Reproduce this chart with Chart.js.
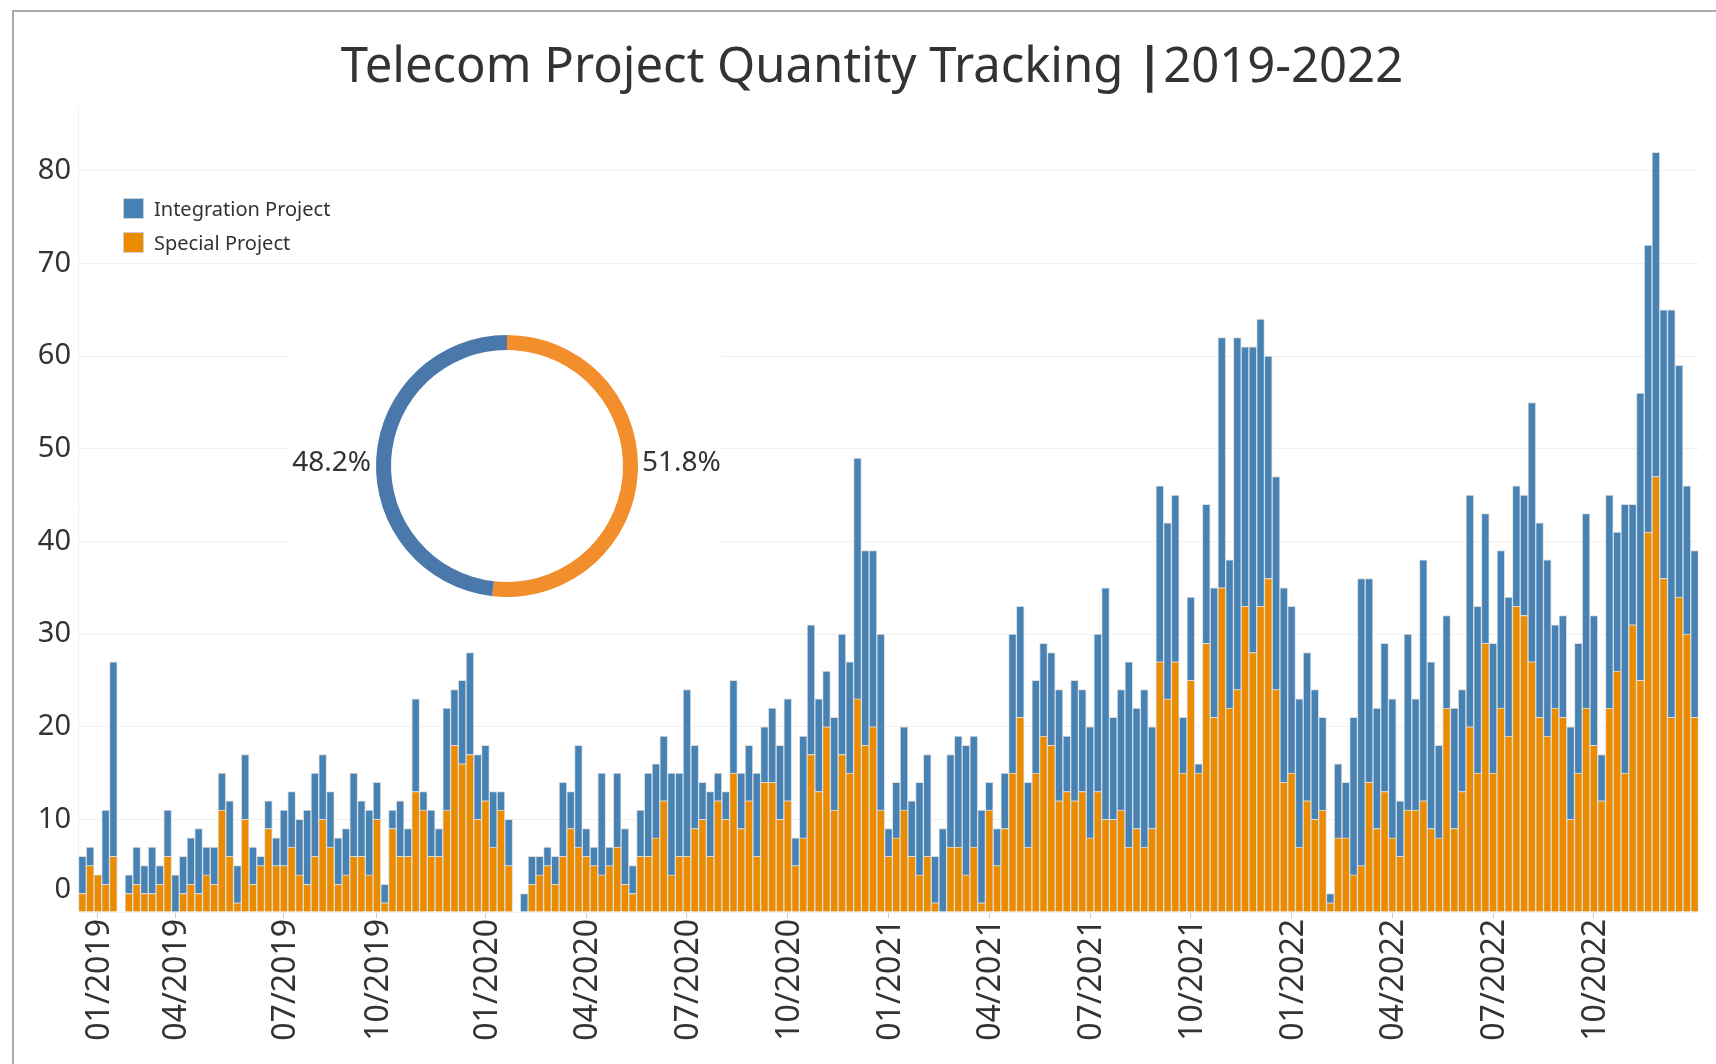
<!DOCTYPE html>
<html>
<head>
<meta charset="utf-8">
<script src="https://cdn.jsdelivr.net/npm/chart.js@4.4.0/dist/chart.umd.min.js"></script>
<style>
  html, body { margin: 0; padding: 0; background: #fff; overflow: hidden; }
  #wrap { position: relative; width: 1716px; height: 1064px; }
  #frame { position: absolute; left: 12px; top: 10px; width: 1800px; height: 1200px;
           border-left: 2px solid #aaa; border-top: 2px solid #aaa; }
  #main { position: absolute; left: 0; top: 0; }
  #pieBox { position: absolute; left: 290px; top: 317px; width: 432px; height: 300px; background: #fff; }
</style>
</head>
<body>
<div id="wrap">
  <div id="frame"></div>
  <canvas id="main" width="1716" height="1064"></canvas>
  <div id="pieBox"><canvas id="pie" width="432" height="300"></canvas></div>
</div>
<script>
// weekly counts, one entry per ISO week (null = no data that week)
const special2019 = [2,5,4,3,6,null,2,3,2,2,3,6,0,2,3,2,4,3,11,6,1,10,3,5,9,5,5,7,4,3,6,10,7,3,4,6,6,4,10,1,9,6,6,13,11,6,6,11,18,16,17,10];
const integration2019 = [4,2,0,8,21,null,2,4,3,5,2,5,4,4,5,7,3,4,4,6,4,7,4,1,3,3,6,6,6,8,9,7,6,5,5,9,6,7,4,2,2,6,3,10,2,5,3,11,6,9,11,7];
const special2020 = [12,7,11,5,null,0,3,4,5,3,6,9,7,6,5,4,5,7,3,2,6,6,8,12,4,6,6,9,10,6,12,10,15,9,12,6,14,14,10,12,5,8,17,13,20,11,17,15,23,18,20,11,6];
const integration2020 = [6,6,2,5,null,2,3,2,2,3,8,4,11,3,2,11,2,8,6,3,5,9,8,7,11,9,18,9,4,7,3,3,10,6,6,9,6,8,8,11,3,11,14,10,6,10,13,12,26,21,19,19,3];
const special2021 = [8,11,6,4,6,1,0,7,7,4,7,1,11,5,9,15,21,7,15,19,18,12,13,12,13,8,13,10,10,11,7,9,7,9,27,23,27,15,25,15,29,21,35,22,24,33,28,33,36,24,14,15];
const integration2021 = [6,9,6,10,11,5,9,10,12,14,12,10,3,4,6,15,12,7,10,10,10,12,6,13,11,12,17,25,11,13,20,13,17,11,19,19,18,6,9,1,15,14,27,16,38,28,33,31,24,23,21,18];
const special2022 = [7,12,10,11,1,8,8,4,5,14,9,13,8,6,11,11,12,9,8,22,9,13,20,15,29,15,22,19,33,32,27,21,19,22,21,10,15,22,18,12,22,26,15,31,25,41,47,36,21,34,30,21];
const integration2022 = [16,16,14,10,1,8,6,17,31,22,13,16,15,6,19,12,26,18,10,10,13,11,25,18,14,14,17,15,13,13,28,21,19,9,11,10,14,21,14,5,23,15,29,13,31,31,35,29,44,25,16,18];

const years = [2019, 2020, 2021, 2022];
const weeksPerYear = [52, 53, 52, 52];

// quarter tick labels and the week slot they sit on
const tickIdx = [2, 12, 26, 38, 52, 65, 78, 91, 104, 117, 130, 143, 156, 169, 182, 195];
const tickText = ['01/2019','04/2019','07/2019','10/2019','01/2020','04/2020','07/2020','10/2020',
                  '01/2021','04/2021','07/2021','10/2021','01/2022','04/2022','07/2022','10/2022'];

const yTicks = [0, 10, 20, 30, 40, 50, 60, 70, 80];

// overall share shown in the ring
const shareLabels = ['Special Project', 'Integration Project'];
const shareValues = [51.8, 48.2];

const weeks = [];
years.forEach((y, k) => {
  for (let w = 1; w <= weeksPerYear[k]; w++) weeks.push(y + '-W' + String(w).padStart(2, '0'));
});
const special = [].concat(special2019, special2020, special2021, special2022);
const integration = [].concat(integration2019, integration2020, integration2021, integration2022);

const FONT = "'Noto Sans', 'Open Sans', sans-serif";
const TEXT = '#333333';
const BLUE = '#4682b4';
const ORANGE = '#eb8c00';

const decor = {
  id: 'decor',
  afterDraw(chart) {
    const c = chart.ctx;
    c.save();
    c.fillStyle = TEXT;
    // title, drawn in three runs so the separator can be heavier
    const parts = [['Telecom Project Quantity Tracking ', '400'], ['|', '700'], ['2019-2022', '400']];
    c.textBaseline = 'middle';
    c.textAlign = 'left';
    let total = 0;
    parts.forEach(p => { c.font = p[1] + ' 49px ' + FONT; total += c.measureText(p[0]).width; });
    let tx = 872 - total / 2;
    parts.forEach(p => {
      c.font = p[1] + ' 49px ' + FONT;
      c.fillText(p[0], tx, 68);
      tx += c.measureText(p[0]).width;
    });
    // y labels (the zero label sits a bit above the baseline)
    const ys = chart.scales.y;
    c.font = '29px ' + FONT;
    c.textAlign = 'right';
    yTicks.forEach(v => {
      let py = ys.getPixelForValue(v);
      if (v === 0) py -= 22;
      c.fillText(String(v), 71, py);
    });
    // legend
    c.font = '20px ' + FONT;
    c.textAlign = 'left';
    const items = [chart.data.datasets[1], chart.data.datasets[0]];
    items.forEach((ds, i) => {
      const top = 199 + i * 34;
      c.fillStyle = ds.backgroundColor;
      c.fillRect(124, top, 19, 19);
      c.strokeStyle = '#cfcfcf';
      c.lineWidth = 1;
      c.strokeRect(123.5, top - 0.5, 20, 20);
      c.fillStyle = TEXT;
      c.fillText(ds.label, 154, top + 11);
    });
    c.restore();
  }
};

new Chart(document.getElementById('main'), {
  type: 'bar',
  data: {
    labels: weeks,
    datasets: [
      { label: 'Special Project', data: special, backgroundColor: ORANGE, borderColor: '#dcdcdc', borderWidth: 1 },
      { label: 'Integration Project', data: integration, backgroundColor: BLUE, borderColor: '#dcdcdc', borderWidth: 1 }
    ]
  },
  options: {
    responsive: false,
    animation: false,
    layout: { padding: { left: 14, right: 17.5, top: 106, bottom: 12 } },
    datasets: { bar: { barPercentage: 1, categoryPercentage: 1 } },
    scales: {
      x: {
        stacked: true,
        border: { display: false },
        grid: {
          drawOnChartArea: false, offset: false, tickLength: 6,
          color: ctx => tickIdx.includes(ctx.index) ? '#cccccc' : 'rgba(0,0,0,0)'
        },
        ticks: {
          autoSkip: false, maxRotation: 90, minRotation: 90, padding: 1, labelOffset: 2,
          color: TEXT, font: { family: FONT, size: 32 },
          callback: (v, i) => { const k = tickIdx.indexOf(i); return k >= 0 ? tickText[k] : ''; }
        },
        afterFit: s => { s.height = 140; s.paddingLeft = 0; s.paddingRight = 0; }
      },
      y: {
        stacked: true, min: 0, max: 87,
        ticks: { display: false, stepSize: 10, includeBounds: false },
        grid: { color: '#efefef', drawTicks: false },
        border: { color: '#f0f0f0' },
        afterFit: s => { s.width = 64.5; s.paddingTop = 0; s.paddingBottom = 0; }
      }
    },
    plugins: { legend: { display: false }, tooltip: { enabled: false } }
  },
  plugins: [decor]
});

const pieLabels = {
  id: 'pieLabels',
  afterDraw(chart) {
    const c = chart.ctx;
    const arcs = chart.getDatasetMeta(0).data;
    c.save();
    c.fillStyle = TEXT;
    c.font = '28px ' + FONT;
    c.textBaseline = 'middle';
    arcs.forEach((a, i) => {
      const mid = (a.startAngle + a.endAngle) / 2;
      const right = Math.cos(mid) > 0;
      c.textAlign = right ? 'left' : 'right';
      const x = a.x + (right ? a.outerRadius + 4 : -a.outerRadius - 5);
      c.fillText(chart.data.datasets[0].data[i].toFixed(1) + '%', x, a.y - 3);
    });
    c.restore();
  }
};

new Chart(document.getElementById('pie'), {
  type: 'doughnut',
  data: {
    labels: shareLabels,
    datasets: [{ data: shareValues, backgroundColor: ['#f28e2b', '#4a78aa'], borderWidth: 0, hoverOffset: 0 }]
  },
  options: {
    responsive: false,
    animation: false,
    radius: 131,
    cutout: 116,
    layout: { padding: { left: 86, right: 84, top: 18, bottom: 20 } },
    plugins: { legend: { display: false }, tooltip: { enabled: false } }
  },
  plugins: [pieLabels]
});
</script>
</body>
</html>
